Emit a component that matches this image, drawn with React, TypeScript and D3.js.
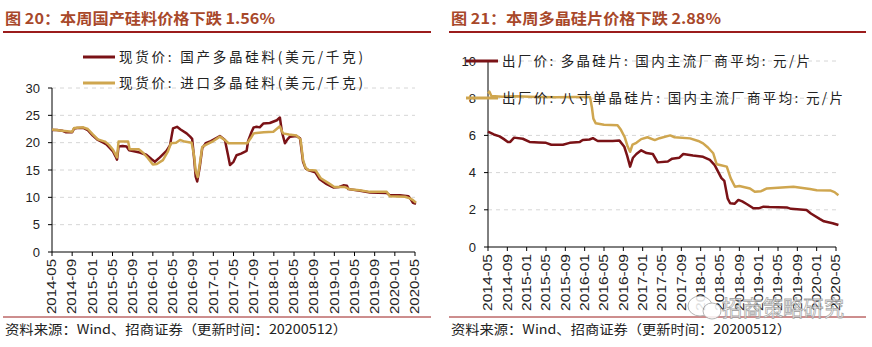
import React from 'react';
import * as d3 from 'd3';

// x: months since 2014-05
const xTickLabels = ['2014-05','2014-09','2015-01','2015-05','2015-09','2016-01','2016-05','2016-09','2017-01','2017-05','2017-09','2018-01','2018-05','2018-09','2019-01','2019-05','2019-09','2020-01','2020-05'];
const leftYTicks = [0, 5, 10, 15, 20, 25, 30];
const rightYTicks = [0, 2, 4, 6, 8, 10];

const domestic: [number, number][] = [[0,22.3],[1,22.3],[2,22.2],[2.8,21.9],[4,21.9],[4.4,22.6],[5,22.7],[6.2,22.7],[7.1,22.3],[8.1,21.3],[9.1,20.5],[10,20.1],[10.8,19.7],[11.5,19.0],[12.1,18.4],[12.6,17.5],[12.9,16.9],[13.2,19.3],[14,19.4],[14.8,19.3],[15.3,18.6],[16.5,18.4],[17.4,18.2],[18.7,17.8],[19.7,17.0],[20.4,16.5],[21.4,17.3],[22.7,18.5],[23.4,19.5],[24,22.6],[24.8,22.9],[25.5,22.4],[26.7,21.7],[27.4,21.1],[27.8,20.7],[28.2,17.0],[28.5,13.8],[28.8,12.9],[29.3,15.5],[29.8,19.0],[30.5,19.9],[31.5,20.3],[32.5,20.8],[33.3,21.2],[34.3,20.5],[34.9,17.8],[35.3,15.9],[36,16.5],[36.6,17.7],[37.5,18.0],[38.6,18.5],[38.9,20.3],[39.6,22.0],[40.0,22.8],[40.6,22.9],[41.2,22.8],[41.9,23.5],[43.2,23.6],[44.6,24.1],[45.2,24.6],[45.6,22.0],[46.2,19.9],[46.7,20.6],[47.2,21.1],[48.5,21.2],[49.2,20.8],[49.8,16.5],[50.3,15.3],[50.8,15.0],[52.2,14.6],[53.1,13.3],[54.5,12.4],[55.8,11.8],[57,11.9],[57.8,12.2],[58.5,12.1],[58.8,11.5],[61.1,11.2],[63.1,10.9],[66.4,10.8],[67,10.4],[69,10.4],[70.7,10.2],[71.2,9.6],[71.6,9.0],[72.2,8.8]];

const imported: [number, number][] = [[0,22.4],[2,22.2],[4,22.0],[4.4,22.7],[6.2,22.8],[7.1,22.5],[8.1,21.5],[9.1,20.6],[10.5,20.2],[11.3,19.6],[12.1,18.7],[12.9,17.3],[13.2,20.2],[15.1,20.2],[15.4,18.8],[17.2,18.8],[18,18.2],[19,17.2],[20,16.0],[20.8,16.1],[22,16.8],[23,18.4],[23.6,19.9],[24.6,20.0],[25.4,20.5],[26.3,20.2],[27.7,20.0],[28.2,17.5],[28.5,14.8],[28.9,13.7],[29.3,16],[29.8,19.2],[30.5,19.6],[32,20.3],[33.3,21.1],[34.4,20.4],[35,19.9],[37,19.9],[38.7,19.9],[39.4,20.8],[40,21.7],[42,21.9],[43.9,22.0],[45.2,23.0],[45.8,21.7],[47,21.5],[48.5,21.3],[49.3,20.6],[49.8,16.8],[50.3,15.4],[50.8,15.0],[52.3,14.9],[53.3,13.5],[55,12.5],[56,11.9],[58,11.9],[59,11.5],[61,11.3],[63,11.0],[66.4,11.0],[67,10.2],[70,10.1],[71,9.8],[71.6,9.5],[72.2,9.0]];

const polyWafer: [number, number][] = [[0,6.2],[1.2,6.05],[2.4,5.95],[3.3,5.8],[4.1,5.65],[4.6,5.65],[5.4,5.88],[7.2,5.82],[8.6,5.65],[10.5,5.62],[12,5.6],[13.1,5.5],[15.5,5.5],[16.9,5.6],[19,5.65],[19.6,5.75],[21,5.78],[21.7,5.85],[22.7,5.7],[25.8,5.7],[27.2,5.72],[28.2,5.39],[28.8,4.9],[29.4,4.32],[30,4.8],[30.7,5.0],[31.7,5.2],[32.8,5.05],[34.1,5.0],[35.1,4.55],[37.2,4.6],[38.1,4.75],[39.6,4.8],[40.4,5.0],[42.4,4.92],[44.5,4.85],[45.9,4.68],[46.9,4.4],[48.3,3.7],[48.9,3.55],[49.6,2.6],[50.1,2.35],[51,2.32],[51.8,2.53],[52.6,2.45],[53.6,2.3],[54.9,2.08],[56,2.08],[57,2.17],[58.2,2.15],[61.8,2.13],[62.7,2.05],[65.9,1.99],[66.8,1.8],[68.7,1.5],[69.5,1.38],[71.3,1.28],[72.5,1.18]];

const monoWafer: [number, number][] = [[0,8.25],[0.3,8.35],[0.7,8.12],[3,8.08],[6,8.1],[10,8.07],[14,8.05],[18,8.07],[21.1,8.07],[21.5,7.5],[21.8,6.9],[22.3,6.65],[24,6.57],[26.8,6.55],[27.5,6.3],[28.3,5.9],[28.9,5.4],[29.4,5.12],[29.9,5.5],[30.7,5.6],[31.7,5.8],[33,5.9],[34.5,5.75],[35.5,5.85],[37.7,6.0],[38.6,5.9],[41.8,5.84],[43.5,5.7],[44.5,5.57],[45.5,5.35],[46.6,5.04],[47.3,4.45],[48,4.41],[49.4,4.32],[50.2,3.7],[51.1,3.24],[52,3.28],[54.2,3.15],[55.2,2.97],[56.5,3.0],[57.7,3.15],[60,3.18],[63.2,3.24],[66.6,3.12],[68,3.05],[70.8,3.04],[71.7,2.95],[72.5,2.78]];

const MAROON = '#7a1216';
const GOLD = '#cfa64f';
const TITLE = '#a8482a';
const RULE = '#9b1c1c';
const NUM_FONT = '"Liberation Sans", Arial, sans-serif';
const CJK_FONT = '"Noto Sans CJK SC", "Noto Sans", sans-serif';

type PanelProps = {
  ox: number;
  title: string;
  titleLen: number;
  ruleX0: number;
  ruleX1: number;
  x0: number; x1: number; yBottom: number; yTop: number;
  yMax: number; yTicks: number[];
  series: { data: [number, number][]; color: string; label: string; ly: number; textLen: number }[];
  legendX0: number;
  labelX: number;
  footerLen: number;
  labelLen: number;
};

function Panel(p: PanelProps) {
  const x = d3.scaleLinear().domain([0, 72]).range([p.x0, p.x1]);
  const y = d3.scaleLinear().domain([0, p.yMax]).range([p.yBottom, p.yTop]);
  const line = d3.line<[number, number]>().x(d => x(d[0])).y(d => y(d[1]));
  const xTicks = xTickLabels.map((_, i) => i * 4);
  return (
    <g>
      <text x={p.ox} y={24} fill={TITLE} fontFamily={CJK_FONT} fontWeight={700} fontSize={15} textLength={p.titleLen} lengthAdjust="spacingAndGlyphs">{p.title}</text>
      <line x1={p.ruleX0} x2={p.ruleX1} y1={32} y2={32} stroke={RULE} strokeWidth={2} />
      {p.yTicks.filter(t => t > 0).map(t => (
        <line key={'g' + t} x1={p.x0} x2={p.x1} y1={y(t)} y2={y(t)} stroke="#d6d6d6" strokeWidth={1} strokeDasharray="4,4" />
      ))}
      <line x1={p.x0} x2={p.x0} y1={p.yBottom} y2={p.yTop} stroke="#000" strokeWidth={1} />
      <line x1={p.x0} x2={p.x1} y1={p.yBottom} y2={p.yBottom} stroke="#000" strokeWidth={1} />
      {p.yTicks.map(t => (
        <g key={'y' + t}>
          <line x1={p.x0 - 4} x2={p.x0} y1={y(t)} y2={y(t)} stroke="#000" />
          <text x={p.labelX} y={y(t)} dy="0.36em" textAnchor="end" fontFamily={NUM_FONT} fontSize={13} fill="#222">{t}</text>
        </g>
      ))}
      {xTicks.map((m, i) => (
        <g key={'x' + m}>
          <line x1={x(m)} x2={x(m)} y1={p.yBottom} y2={p.yBottom + 4} stroke="#000" />
          <text transform={`translate(${x(m)},${p.yBottom + 7}) rotate(-90)`} dy="0.36em" textAnchor="end" fontFamily={NUM_FONT} fontSize={12} fill="#222" textLength={p.labelLen} lengthAdjust="spacingAndGlyphs">{xTickLabels[i]}</text>
        </g>
      ))}
      {p.series.map(s => (
        <path key={s.label} d={line(s.data) || ''} fill="none" stroke={s.color} strokeWidth={2.5} strokeLinejoin="round" />
      ))}
      {p.series.map(s => (
        <g key={'l' + s.label}>
          <line x1={p.legendX0} x2={p.legendX0 + 32} y1={s.ly} y2={s.ly} stroke={s.color} strokeWidth={3} />
          <text x={p.legendX0 + 36} y={s.ly} dy="0.36em" fontFamily={CJK_FONT} fontSize={13.5} fill="#222" textLength={s.textLen} lengthAdjust="spacing">{s.label}</text>
        </g>
      ))}
      <line x1={p.ruleX0} x2={p.ruleX1} y1={317} y2={317} stroke={RULE} strokeWidth={1} />
      <text x={p.ox} y={334} fontFamily={CJK_FONT} fontSize={13} fill="#222" textLength={p.footerLen} lengthAdjust="spacingAndGlyphs">资料来源：Wind、招商证券（更新时间：20200512）</text>
    </g>
  );
}

export default function App() {
  return (
    <svg width={872} height={347} style={{ position: 'absolute', left: 0, top: 0, background: '#fff' }}>
      <rect width={872} height={347} fill="#fff" />
      <Panel
        ox={5} title="图 20：本周国产硅料价格下跌 1.56%" titleLen={270}
        ruleX0={3} ruleX1={431}
        x0={52} x1={415} yBottom={252} yTop={88} yMax={30} yTicks={leftYTicks}
        legendX0={83} labelX={40} footerLen={342} labelLen={55}
        series={[
          { data: domestic, color: MAROON, label: '现货价: 国产多晶硅料(美元/千克)', ly: 57, textLen: 244 },
          { data: imported, color: GOLD, label: '现货价: 进口多晶硅料(美元/千克)', ly: 83, textLen: 244 },
        ]}
      />
      <Panel
        ox={451} title="图 21：本周多晶硅片价格下跌 2.88%" titleLen={270}
        ruleX0={449} ruleX1={866}
        x0={488} x1={836} yBottom={247} yTop={61} yMax={10} yTicks={rightYTicks}
        legendX0={466} labelX={476} footerLen={340} labelLen={57}
        series={[
          { data: polyWafer, color: MAROON, label: '出厂价: 多晶硅片: 国内主流厂商平均: 元/片', ly: 61, textLen: 308 },
          { data: monoWafer, color: GOLD, label: '出厂价: 八寸单晶硅片: 国内主流厂商平均: 元/片', ly: 98, textLen: 341 },
        ]}
      />
      <g opacity={0.85}>
        <ellipse cx={700} cy={306} rx={12} ry={10} fill="#fff" stroke="#aaa" strokeWidth={1} />
        <ellipse cx={712} cy={311} rx={9} ry={8} fill="#fff" stroke="#aaa" strokeWidth={1} />
        <text x={722} y={316} fontFamily={CJK_FONT} fontSize={22} fill="#fff" stroke="#999" strokeWidth={0.8} textLength={122} lengthAdjust="spacingAndGlyphs">招商策略研究</text>
      </g>
    </svg>
  );
}
